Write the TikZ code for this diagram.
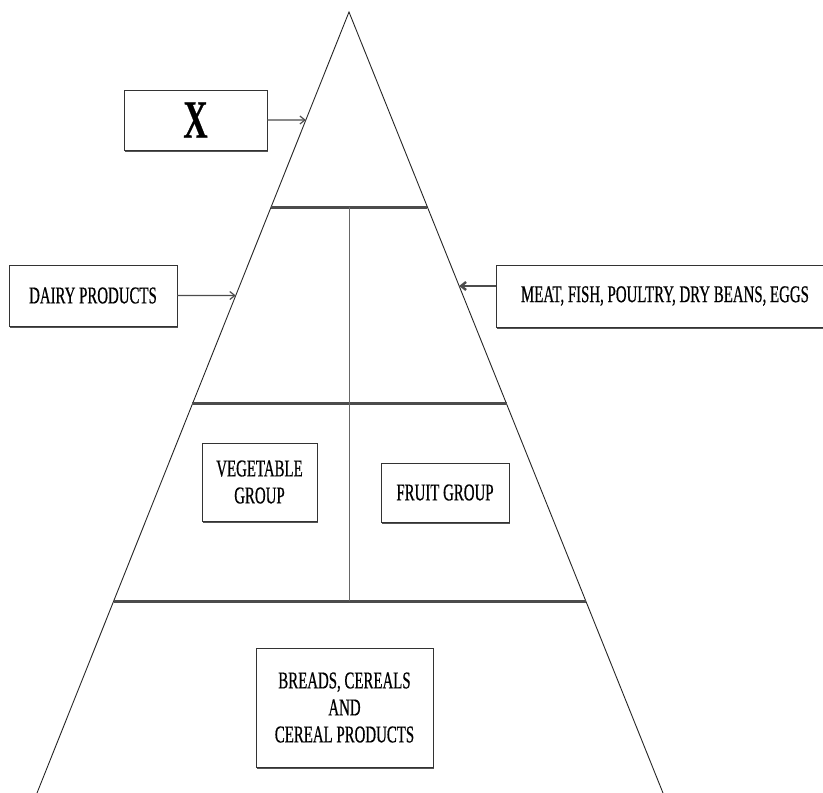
\documentclass[tikz,border=0pt]{standalone}
\usepackage{fontspec}
\setmainfont{Liberation Serif}[FakeStretch=0.62, FakeBold=0.5]
\usepackage{tikz}
\usetikzlibrary{positioning,calc,arrows.meta,shadows}
\tikzstyle{food} = [rectangle, draw=black!80, thin, fill=white, text centered, align=center, drop shadow={shadow xshift=0.5pt, shadow yshift=-1.8pt, fill=black!75, opacity=0.9}]
\tikzstyle{edge} = [draw=black!85, line width=0.9pt]
\tikzstyle{band} = [draw=black!70, line width=3pt]
\tikzstyle{split} = [draw=black!60, thin]
\tikzstyle{pointer} = [draw=black!70, line width=1.2pt, -{Straight Barb[length=5pt, width=8pt]}]

\begin{document}
\begin{tikzpicture}[x=1pt, y=-1pt, font=\fontsize{24}{27}\selectfont]
	\useasboundingbox (0,0) rectangle (823,793);
	% pyramid corners
	\coordinate (top) at (349,12);
	\coordinate (bl) at (37,793);
	\coordinate (br) at (663,793);
	% band ends on the sides
	\coordinate (b1l) at ($(top)!0.2497!(bl)$);
	\coordinate (b1r) at ($(top)!0.2497!(br)$);
	\coordinate (b2l) at ($(top)!0.5019!(bl)$);
	\coordinate (b2r) at ($(top)!0.5019!(br)$);
	\coordinate (b3l) at ($(top)!0.7542!(bl)$);
	\coordinate (b3r) at ($(top)!0.7542!(br)$);
	\coordinate (s1) at (349,207);
	\coordinate (s2) at (349,601);
	% arrow tips on the sides
	\coordinate (xtip) at ($(top)!0.1383!(bl)$);
	\coordinate (dtip) at ($(top)!0.363!(bl)$);
	\coordinate (mtip) at ($(top)!0.3508!(br)$);

	% place nodes
	\node [food, minimum width=143pt, minimum height=60pt] (X) at (195.5,120) {\bfseries\fontsize{54}{54}\selectfont X};
	\node [food, minimum width=168pt, minimum height=61pt] (dairy) at (93,295.5) {DAIRY PRODUCTS};
	\node [food, minimum width=338pt, minimum height=62pt] (meat) at (665,296) {MEAT, FISH, POULTRY, DRY BEANS, EGGS};
	\node [food, minimum width=115pt, minimum height=78pt] (veg) at (259.5,482) {VEGETABLE\\GROUP};
	\node [food, minimum width=128pt, minimum height=59pt] (fruit) at (445,492.5) {FRUIT GROUP};
	\node [food, minimum width=177pt, minimum height=119pt] (bread) at (344.5,707.5) {BREADS, CEREALS\\AND\\CEREAL PRODUCTS};

	% draw pyramid
	\path [edge] (bl) -- (top) -- (br);
	\path [band] (b1l) -- (b1r);
	\path [band] (b2l) -- (b2r);
	\path [band] (b3l) -- (b3r);
	\path [split] (s1) -- (s2);

	% draw edges
	\path [pointer] (X.east) -- (xtip);
	\path [pointer] (dairy.east) -- (dtip);
	\path [pointer, line width=2.4pt] (meat.west |- mtip) -- (mtip);
\end{tikzpicture}
\end{document}
